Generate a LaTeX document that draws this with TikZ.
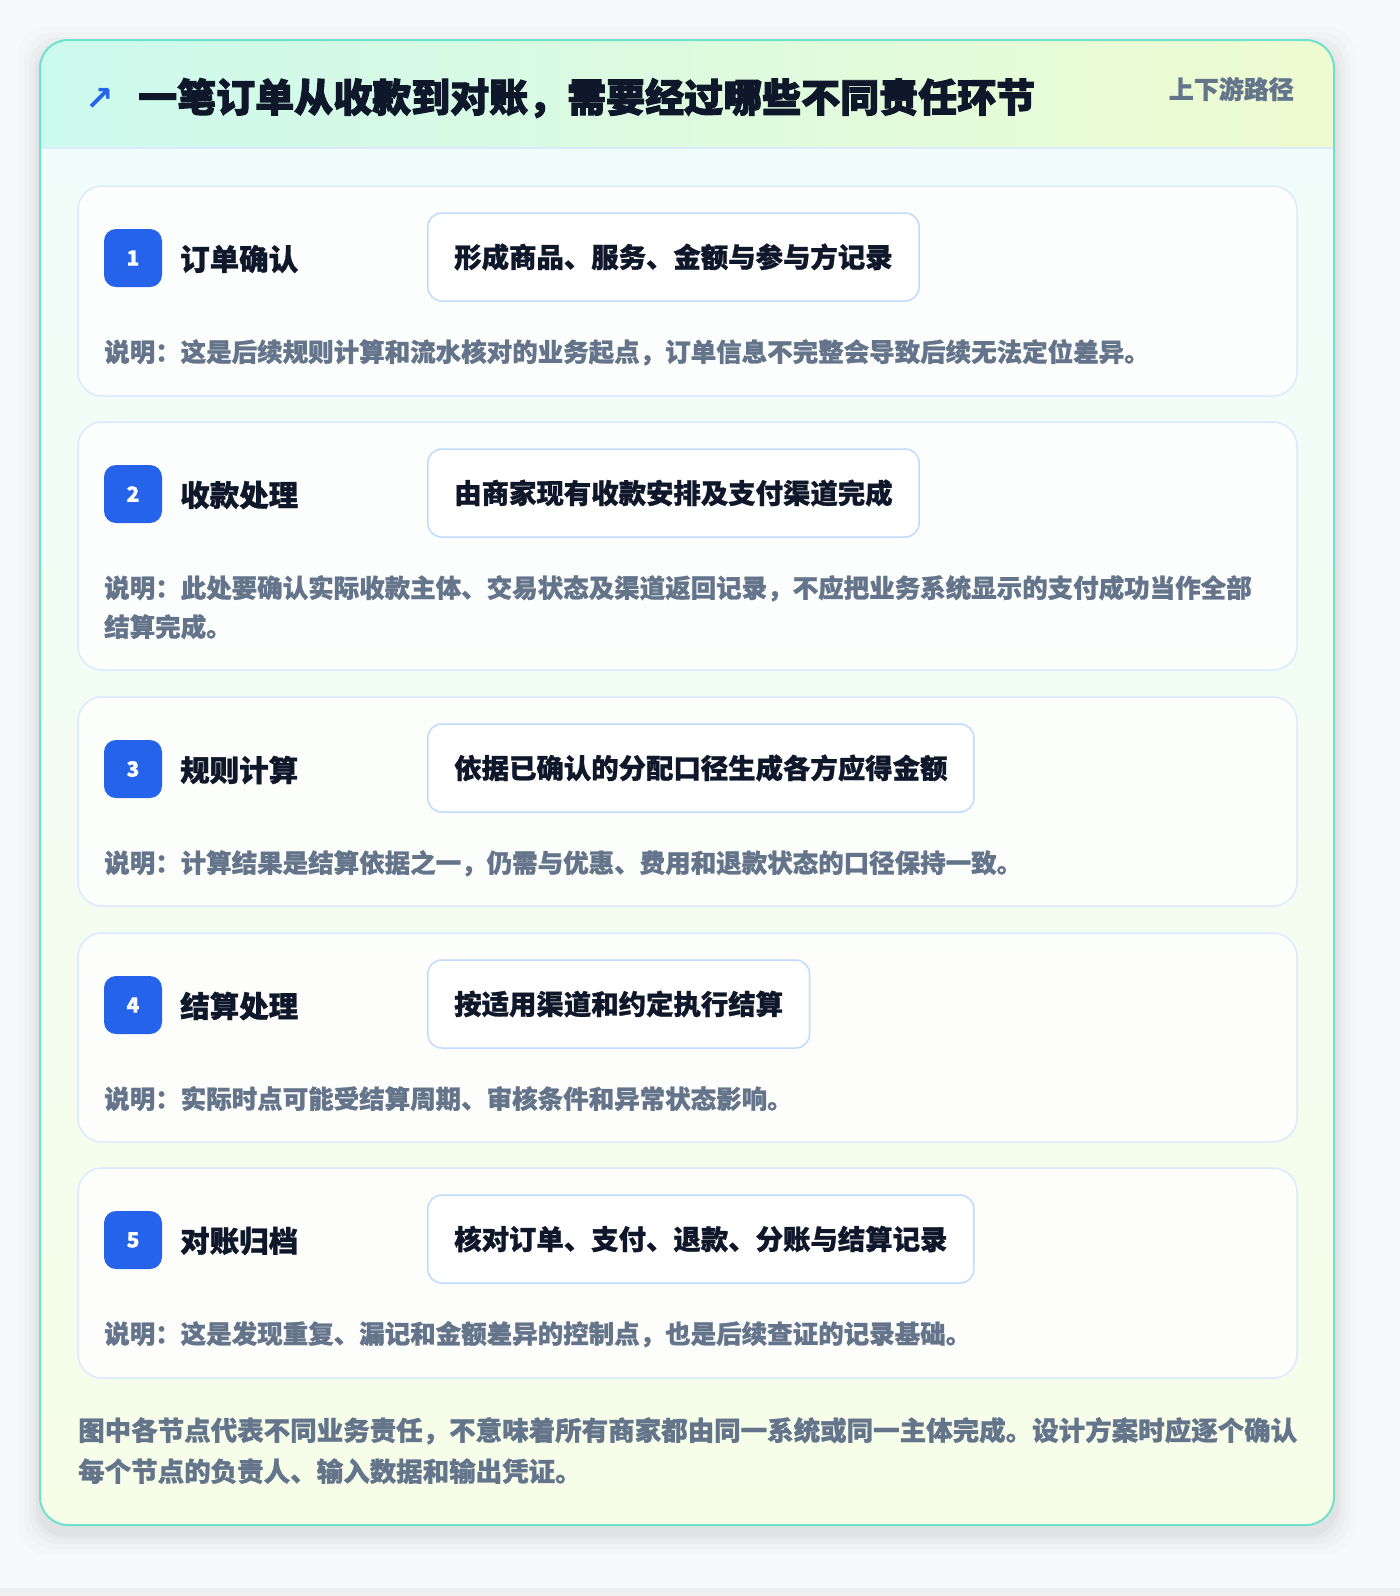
\documentclass[tikz,border=0pt]{standalone}
\usepackage{fontspec}
\setmainfont{Noto Sans CJK SC}[BoldFeatures={FakeBold=1}]
\newfontfamily\heavyfont{Noto Sans CJK SC}[BoldFeatures={FakeBold=2.5}]
\newfontfamily\symfont{DejaVu Sans}
\definecolor{pagebg}{HTML}{F8F9FB}
\definecolor{outerline}{HTML}{6EE2CB}
\definecolor{headL}{HTML}{CCFAEE}
\definecolor{headR}{HTML}{EEFBD0}
\definecolor{bodyT}{HTML}{F0FDFA}
\definecolor{bodyB}{HTML}{F6FEE8}
\definecolor{cardline}{HTML}{DBEAFE}
\definecolor{pillline}{HTML}{BFDBFE}
\definecolor{badgeblue}{HTML}{2563EB}
\definecolor{darktext}{HTML}{0F172A}
\definecolor{graytext}{HTML}{64748B}
\tikzset{
  card/.style={draw=cardline, line width=1.5pt, fill=white, fill opacity=0.82, draw opacity=1, rounded corners=24pt},
  badge/.style={fill=badgeblue, rounded corners=12pt, minimum width=58pt, minimum height=58pt, inner sep=0pt, text=white, font=\fontsize{21}{24}\selectfont\bfseries},
  steptitle/.style={anchor=west, inner sep=0pt, text=darktext, font=\fontsize{29.5}{34}\selectfont\bfseries},
  pill/.style={anchor=west, draw=pillline, line width=1.5pt, fill=white, rounded corners=14pt, minimum height=88pt, inner xsep=26.5pt, inner ysep=0pt, text=darktext, font=\fontsize{27.4}{32}\selectfont\bfseries},
  desc/.style={anchor=north west, inner sep=0pt, text=graytext, align=left, font=\fontsize{25.5}{39}\selectfont\bfseries},
  foot/.style={anchor=north west, inner sep=0pt, text=graytext, align=left, font=\fontsize{26.5}{41}\selectfont\bfseries},
}
\begin{document}
\begin{tikzpicture}[x=1pt,y=-1pt]
\useasboundingbox (0,0) rectangle (1400,1596);
\fill[pagebg] (0,0) rectangle (1400,1596);
\fill[black!6] (0,1588) rectangle (1400,1596);
% outer shadow
\foreach \s/\o in {22/0.012,16/0.015,11/0.018,7/0.02,4/0.025} {
  \fill[black, opacity=\o, rounded corners=30pt] (40-\s,40-\s+8) rectangle (1334+\s,1525+\s+8);
}
% outer card
\begin{scope}
  \clip[rounded corners=28pt] (40,40) rectangle (1334,1525);
  \shade[top color=bodyT, bottom color=bodyB] (40,148) rectangle (1334,1525);
  \shade[left color=headL, right color=headR] (40,40) rectangle (1334,148);
  \draw[cardline, line width=1.5pt] (40,148) -- (1334,148);
\end{scope}
\draw[outerline, line width=2pt, rounded corners=28pt] (40,40) rectangle (1334,1525);
% header
\node[anchor=center, inner sep=0pt, text=badgeblue, font=\symfont\fontsize{34}{34}\selectfont\bfseries] (icon) at (100,99) {↗};
\node[anchor=west, inner sep=0pt, text=darktext, font=\heavyfont\fontsize{39}{46}\selectfont\bfseries] (title) at (138,98) {一笔订单从收款到对账，需要经过哪些不同责任环节};
\node[anchor=east, inner sep=0pt, text=graytext, font=\fontsize{25}{30}\selectfont\bfseries] (tag) at (1294,89) {上下游路径};
% cards
\foreach \i/\top/\bot/\tt/\pt in {
  1/186/396/订单确认/形成商品、服务、金额与参与方记录,
  2/422/670/收款处理/由商家现有收款安排及支付渠道完成,
  3/697/906/规则计算/依据已确认的分配口径生成各方应得金额,
  4/933/1142/结算处理/按适用渠道和约定执行结算,
  5/1168/1378/对账归档/核对订单、支付、退款、分账与结算记录} {
  \draw[card] (78,\top) rectangle (1297,\bot);
  \node[badge] (badge\i) at (133,\top+72) {\i};
  \node[steptitle] (title\i) at (180,\top+73) {\tt};
  \fill[black, opacity=0.03, rounded corners=16pt] (424,\top+31) rectangle ++(0,94);
  \node[pill] (pill\i) at (427,\top+71) {\pt};
}
\node[desc] (desc1) at (104,351-12) {说明：这是后续规则计算和流水核对的业务起点，订单信息不完整会导致后续无法定位差异。};
\node[desc] (desc2) at (104,587-12) {说明：此处要确认实际收款主体、交易状态及渠道返回记录，不应把业务系统显示的支付成功当作全部\\结算完成。};
\node[desc] (desc3) at (104,862-12) {说明：计算结果是结算依据之一，仍需与优惠、费用和退款状态的口径保持一致。};
\node[desc] (desc4) at (104,1098-12) {说明：实际时点可能受结算周期、审核条件和异常状态影响。};
\node[desc] (desc5) at (104,1333-12) {说明：这是发现重复、漏记和金额差异的控制点，也是后续查证的记录基础。};
% footer
\node[foot] (footer) at (78,1430-13) {图中各节点代表不同业务责任，不意味着所有商家都由同一系统或同一主体完成。设计方案时应逐个确认\\每个节点的负责人、输入数据和输出凭证。};
\end{tikzpicture}
\end{document}
